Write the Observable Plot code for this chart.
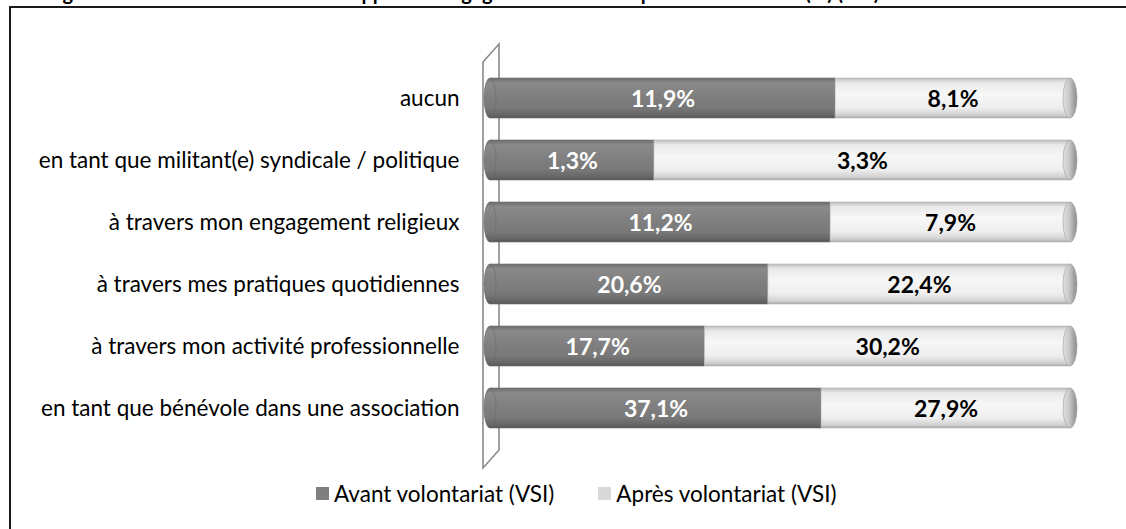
<!DOCTYPE html>
<html>
<head>
<meta charset="utf-8">
<script src="https://cdn.jsdelivr.net/npm/d3@7"></script>
<script src="https://cdn.jsdelivr.net/npm/@observablehq/plot@0.6"></script>
<style>
  html, body { margin: 0; padding: 0; background: #fff; }
  #wrap { position: relative; width: 1126px; height: 529px; overflow: hidden; background: #fff; font-family: Lato, "Open Sans", sans-serif; }
  #frame { position: absolute; left: 9px; top: 6px; width: 1130px; height: 540px; border-top: 2px solid #1a1a1a; border-left: 2px solid #1a1a1a; box-sizing: border-box; }
  #title { position: absolute; left: 0; top: 0; z-index: 5; }
  #chart { position: absolute; left: 0; top: 0; }
  #legend { position: absolute; top: 480px; left: 316px; height: 26px; display: flex; align-items: center; font-size: 22.5px; color: #000; white-space: nowrap; }
  .sw { display: inline-block; width: 13px; height: 13px; margin-right: 5px; }
  .item { display: flex; align-items: center; margin-right: 44px; }
</style>
</head>
<body>
<div id="wrap">
  <div id="frame"></div>
  <div id="chart"></div>
  <svg id="title" width="1126" height="12"><text x="46" y="0" font-family="Lato, 'Open Sans', sans-serif" font-size="20" font-weight="bold" fill="#000"></text></svg>
  <div id="legend"></div>
</div>
<script>
const titleText = "Figure 9 : Modalités et formes du rapport à l'engagement avant et après le volontariat (%) (VSI)";
const categories = [
  "aucun",
  "en tant que militant(e) syndicale / politique",
  "à travers mon engagement religieux",
  "à travers mes pratiques quotidiennes",
  "à travers mon activité professionnelle",
  "en tant que bénévole dans une association"
];
const seriesNames = ["Avant volontariat (VSI)", "Après volontariat (VSI)"];
const avantValues = [11.9, 1.3, 11.2, 20.6, 17.7, 37.1];
const apresValues = [8.1, 3.3, 7.9, 22.4, 30.2, 27.9];
const seriesColors = ["#7f7f7f", "#d9d9d9"];

const rows = [];
categories.forEach((c, i) => {
  rows.push({cat: c, series: seriesNames[0], value: avantValues[i]});
  rows.push({cat: c, series: seriesNames[1], value: apresValues[i]});
});
const fmt = v => v.toFixed(1).replace(".", ",") + "%";

document.querySelector("#title text").textContent = titleText;

function bandInfo(scales, dims) {
  const y = scales.y;
  let bw = y.bandwidth ? y.bandwidth() : null;
  if (!bw) {
    const n = categories.length;
    const p = 0.36;
    const step = (dims.height - dims.marginTop - dims.marginBottom) / (n + p);
    bw = step * (1 - p);
  }
  return bw;
}

const wallMark = (index, scales, values, dims) => {
  const x0 = scales.x(0);
  const top = dims.marginTop;
  const bottom = dims.height - dims.marginBottom;
  const g = d3.create("svg:g").attr("fill", "none").attr("stroke", "#8a8a8a").attr("stroke-width", 1.6);
  const ox = x0 - 7, ix = x0 + 9;
  const oTop = top + 8, iTop = top - 10, oBot = bottom + 17, iBot = bottom - 1;
  g.append("path").attr("d", `M${ox},${oBot} L${ox},${oTop} L${ix},${iTop} L${ix},${iBot} Z`)
    .attr("fill", "#fff");
  return g.node();
};

const capMark = (index, scales, values, dims) => {
  const bw = bandInfo(scales, dims);
  const g = d3.create("svg:g");
  for (const c of categories) {
    const cy = scales.y(c) + bw / 2;
    g.append("ellipse").attr("cx", scales.x(0)).attr("cy", cy).attr("rx", 6).attr("ry", bw / 2)
      .attr("fill", "url(#gDark)").attr("stroke", "#6a6a6a").attr("stroke-width", 0.6);
    g.append("ellipse").attr("cx", scales.x(1)).attr("cy", cy).attr("rx", 7).attr("ry", bw / 2)
      .attr("fill", "url(#gCap)").attr("stroke", "#a0a0a0").attr("stroke-width", 0.6);
  }
  return g.node();
};

const stackOpts = {x: "value", y: "cat", z: "series", order: seriesNames, offset: "normalize"};

const chart = Plot.plot({
  width: 1126,
  height: 465,
  marginLeft: 490,
  marginRight: 56,
  marginTop: 54,
  marginBottom: 14,
  style: {fontFamily: "Lato, 'Open Sans', sans-serif", fontSize: "22.5px", color: "#000", background: "transparent", overflow: "visible"},
  x: {domain: [0, 1], axis: null},
  y: {domain: categories, padding: 0.36, tickSize: 0, tickPadding: 31, label: null},
  color: {type: "identity"},
  marks: [
    wallMark,
    Plot.barX(rows, Plot.stackX({
      ...stackOpts,
      fill: d => d.series === seriesNames[0] ? "url(#gDark)" : "url(#gLight)",
      stroke: d => d.series === seriesNames[0] ? "#6e6e6e" : "#b5b5b5",
      strokeWidth: 0.6
    })),
    capMark,
    Plot.text(rows, Plot.stackX({
      ...stackOpts,
      text: d => fmt(d.value),
      fill: d => d.series === seriesNames[0] ? "#ffffff" : "#000000",
      fontWeight: "bold",
      fontSize: 23,
      dy: 1
    }))
  ]
});

const defs = d3.select(chart).insert("defs", ":first-child");
function vgrad(id, stops, horizontal) {
  const g = defs.append("linearGradient").attr("id", id)
    .attr("x1", 0).attr("y1", 0).attr("x2", horizontal ? 1 : 0).attr("y2", horizontal ? 0 : 1);
  stops.forEach(([o, c]) => g.append("stop").attr("offset", o).attr("stop-color", c));
}
vgrad("gDark", [[0, "#6c6c6c"], [0.12, "#8a8a8a"], [0.4, "#818181"], [0.75, "#787878"], [0.92, "#666666"], [1, "#555555"]]);
vgrad("gLight", [[0, "#bdbdbd"], [0.12, "#e9e9e9"], [0.4, "#f7f7f7"], [0.75, "#eeeeee"], [0.92, "#d2d2d2"], [1, "#a9a9a9"]]);
vgrad("gCap", [[0, "#e0e0e0"], [0.4, "#cccccc"], [1, "#8a8a8a"]], true);

document.getElementById("chart").appendChild(chart);

const legend = document.getElementById("legend");
seriesNames.forEach((s, i) => {
  const item = document.createElement("div");
  item.className = "item";
  const sw = document.createElement("span");
  sw.className = "sw";
  sw.style.background = seriesColors[i];
  const t = document.createElement("span");
  t.textContent = s;
  item.appendChild(sw);
  item.appendChild(t);
  legend.appendChild(item);
});
</script>
</body>
</html>
